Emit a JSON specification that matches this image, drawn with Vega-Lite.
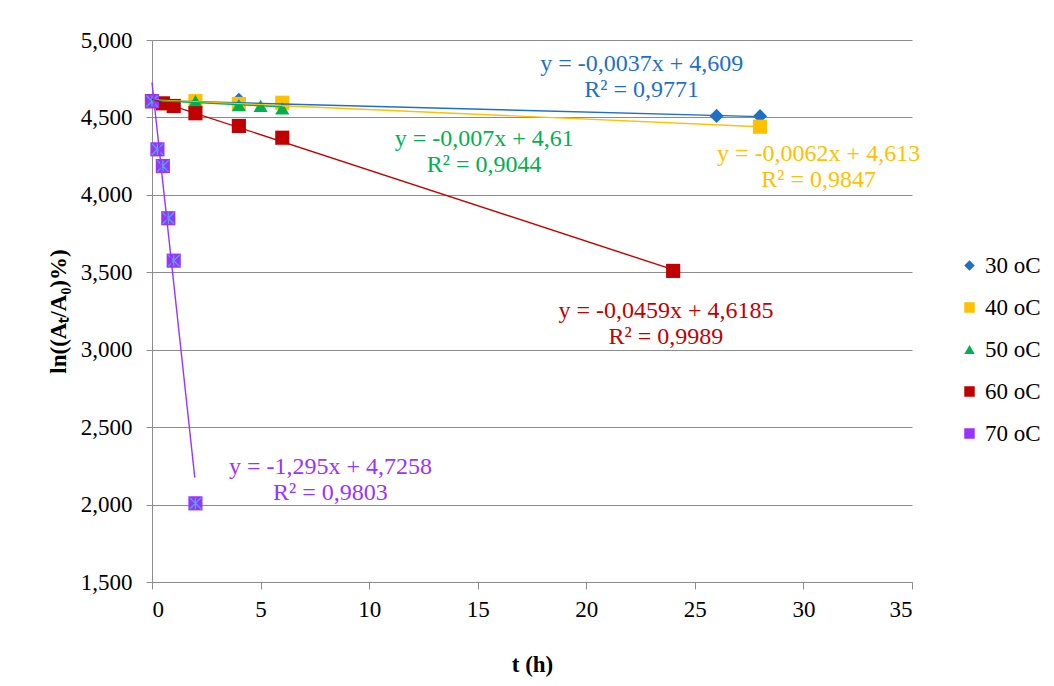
{
  "$schema": "https://vega.github.io/schema/vega-lite/v6.json",
  "width": 760,
  "height": 542,
  "autosize": "none",
  "padding": {"left": 152, "top": 40, "right": 142, "bottom": 104},
  "background": "white",
  "config": {
    "locale": {"number": {"decimal": ",", "thousands": ".", "grouping": [3], "currency": ["", ""]}},
    "view": {"stroke": null},
    "font": "Liberation Serif, serif",
    "axis": {"labelFont": "Liberation Serif, serif", "titleFont": "Liberation Serif, serif"},
    "legend": {"labelFont": "Liberation Serif, serif", "titleFont": "Liberation Serif, serif"},
    "style": {"guide-label": {"font": "Liberation Serif, serif"}, "guide-title": {"font": "Liberation Serif, serif"}},
    "text": {"font": "Liberation Serif, serif"}
  },
  "datasets": {
    "pts": [
      {"series": "30 oC", "t": 0, "v": 4.605},
      {"series": "30 oC", "t": 2, "v": 4.603},
      {"series": "30 oC", "t": 4, "v": 4.614},
      {"series": "30 oC", "t": 26, "v": 4.510},
      {"series": "30 oC", "t": 28, "v": 4.508},
      {"series": "40 oC", "t": 0, "v": 4.605},
      {"series": "40 oC", "t": 2, "v": 4.605},
      {"series": "40 oC", "t": 4, "v": 4.587},
      {"series": "40 oC", "t": 6, "v": 4.595},
      {"series": "40 oC", "t": 28, "v": 4.440},
      {"series": "50 oC", "t": 0, "v": 4.605},
      {"series": "50 oC", "t": 2, "v": 4.605},
      {"series": "50 oC", "t": 4, "v": 4.580},
      {"series": "50 oC", "t": 5, "v": 4.574},
      {"series": "50 oC", "t": 6, "v": 4.559},
      {"series": "60 oC", "t": 0, "v": 4.605},
      {"series": "60 oC", "t": 0.5, "v": 4.591},
      {"series": "60 oC", "t": 1, "v": 4.574},
      {"series": "60 oC", "t": 2, "v": 4.527},
      {"series": "60 oC", "t": 4, "v": 4.445},
      {"series": "60 oC", "t": 6, "v": 4.369},
      {"series": "60 oC", "t": 24, "v": 3.509},
      {"series": "70 oC", "t": 0, "v": 4.605},
      {"series": "70 oC", "t": 0.25, "v": 4.294},
      {"series": "70 oC", "t": 0.5, "v": 4.186},
      {"series": "70 oC", "t": 0.75, "v": 3.849},
      {"series": "70 oC", "t": 1, "v": 3.575},
      {"series": "70 oC", "t": 2, "v": 2.008}
    ],
    "trend": [
      {"series": "30 oC", "t": 0, "v": 4.609},
      {"series": "30 oC", "t": 28, "v": 4.5054},
      {"series": "40 oC", "t": 0, "v": 4.613},
      {"series": "40 oC", "t": 28, "v": 4.4394},
      {"series": "50 oC", "t": 0, "v": 4.61},
      {"series": "50 oC", "t": 6, "v": 4.568},
      {"series": "60 oC", "t": 0, "v": 4.6185},
      {"series": "60 oC", "t": 24, "v": 3.5169},
      {"series": "70 oC", "t": 0, "v": 4.7258},
      {"series": "70 oC", "t": 1.97, "v": 2.1746}
    ],
    "notes": [
      {"series": "30 oC", "t": 22.55, "v": 4.845, "label": "y = -0,0037x + 4,609"},
      {"series": "30 oC", "t": 22.55, "v": 4.677, "label": "R² = 0,9771"},
      {"series": "40 oC", "t": 30.7, "v": 4.264, "label": "y = -0,0062x + 4,613"},
      {"series": "40 oC", "t": 30.7, "v": 4.096, "label": "R² = 0,9847"},
      {"series": "50 oC", "t": 15.3, "v": 4.361, "label": "y = -0,007x + 4,61"},
      {"series": "50 oC", "t": 15.3, "v": 4.193, "label": "R² = 0,9044"},
      {"series": "60 oC", "t": 23.67, "v": 3.250, "label": "y = -0,0459x + 4,6185"},
      {"series": "60 oC", "t": 23.67, "v": 3.082, "label": "R² = 0,9989"},
      {"series": "70 oC", "t": 8.22, "v": 2.243, "label": "y = -1,295x + 4,7258"},
      {"series": "70 oC", "t": 8.22, "v": 2.075, "label": "R² = 0,9803"}
    ]
  },
  "layer": [
    {
      "data": {"name": "pts"},
      "mark": {"type": "point", "filled": true, "opacity": 1, "size": 200},
      "encoding": {
        "x": {
          "field": "t", "type": "quantitative",
          "scale": {"domain": [0, 35], "nice": false},
          "axis": {
            "title": "t (h)", "values": [0, 5, 10, 15, 20, 25, 30, 35], "format": "d",
            "grid": false, "domainColor": "#8c8c8c", "tickColor": "#8c8c8c", "tickSize": 7,
            "labelFontSize": 23, "labelColor": "#000000", "labelPadding": 9,
            "titleFontSize": 23, "titleFontWeight": "bold", "titleColor": "#000000", "titlePadding": 32
          }
        },
        "y": {
          "field": "v", "type": "quantitative",
          "scale": {"domain": [1.5, 5], "nice": false, "zero": false},
          "axis": {
            "title": "ln((Aₜ/A₀)%)", "values": [1.5, 2, 2.5, 3, 3.5, 4, 4.5, 5], "format": ".3f",
            "grid": true, "gridColor": "#8c8c8c", "gridWidth": 1,
            "domainColor": "#8c8c8c", "tickColor": "#8c8c8c", "tickSize": 6,
            "labelFontSize": 23, "labelColor": "#000000", "labelPadding": 14,
            "titleFontSize": 23, "titleFontWeight": "bold", "titleColor": "#000000", "titlePadding": 10
          }
        },
        "color": {
          "field": "series", "type": "nominal",
          "scale": {"domain": ["30 oC", "40 oC", "50 oC", "60 oC", "70 oC"], "range": ["#1f6fc6", "#ffc000", "#00b050", "#c00000", "#9933ff"]},
          "legend": {
            "title": null, "orient": "none", "legendX": 806, "legendY": 214,
            "labelFontSize": 23, "labelColor": "#000000",
            "symbolSize": 110, "rowPadding": 18, "labelOffset": 4, "padding": 0, "symbolStrokeWidth": 0
          }
        },
        "shape": {
          "field": "series", "type": "nominal",
          "scale": {"domain": ["30 oC", "40 oC", "50 oC", "60 oC", "70 oC"], "range": ["diamond", "square", "triangle-up", "square", "square"]}
        }
      }
    },
    {
      "data": {"name": "pts"},
      "transform": [{"filter": "datum.series === '70 oC'"}],
      "mark": {"type": "point", "shape": "M-1,-1L1,1M-1,1L1,-1M0,-1L0,1", "filled": false, "stroke": "#4fa8e0", "strokeWidth": 1.3, "size": 130, "opacity": 1},
      "encoding": {
        "x": {"field": "t", "type": "quantitative"},
        "y": {"field": "v", "type": "quantitative"}
      }
    },
    {
      "data": {"name": "trend"},
      "mark": {"type": "line", "strokeWidth": 1.4},
      "encoding": {
        "x": {"field": "t", "type": "quantitative"},
        "y": {"field": "v", "type": "quantitative"},
        "color": {"field": "series", "type": "nominal", "legend": null},
        "detail": {"field": "series"}
      }
    },
    {
      "data": {"name": "notes"},
      "mark": {"type": "text", "fontSize": 24, "align": "center", "baseline": "middle"},
      "encoding": {
        "x": {"field": "t", "type": "quantitative"},
        "y": {"field": "v", "type": "quantitative"},
        "text": {"field": "label"},
        "color": {"field": "series", "type": "nominal", "legend": null}
      }
    }
  ]
}
